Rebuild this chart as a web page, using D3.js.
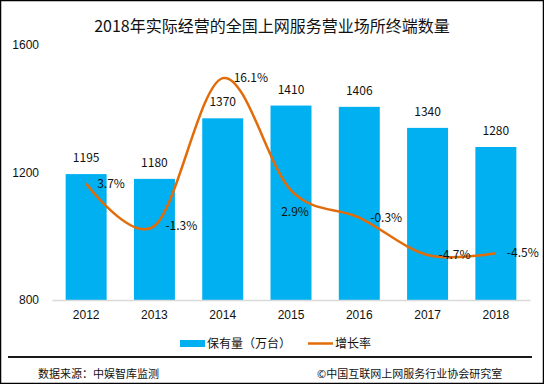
<!DOCTYPE html>
<html>
<head>
<meta charset="utf-8">
<script src="https://cdn.jsdelivr.net/npm/d3@7"></script>
<style>
  html, body { margin: 0; padding: 0; background: #fff; }
  svg { display: block; font-family: "Noto Sans CJK SC", "Noto Sans", sans-serif; }
</style>
</head>
<body>
<div id="chart"></div>
<script>
// chart data
const years = ['2012', '2013', '2014', '2015', '2016', '2017', '2018'];
const terminals = [1195, 1180, 1370, 1410, 1406, 1340, 1280];
const growth = [3.7, -1.3, 16.1, 2.9, -0.3, -4.7, -4.5];
const growthLabelPos = ['right', 'right', 'right', 'below', 'right', 'right', 'right'];
const yTicks = [800, 1200, 1600];

const W = 544, H = 384;
const barColor = '#00B0F0';
const lineColor = '#E36C0A';

const svg = d3.select('#chart').append('svg')
    .attr('width', W)
    .attr('height', H);

// outer border
svg.append('rect')
    .attr('x', 0.5).attr('y', 0.5)
    .attr('width', W - 1).attr('height', H - 1)
    .attr('fill', '#fff')
    .attr('stroke', '#000')
    .attr('stroke-width', 1.5);

svg.append('text')
    .attr('x', 272).attr('y', 32)
    .attr('text-anchor', 'middle')
    .attr('font-size', 16)
    .attr('fill', '#111')
    .text('2018年实际经营的全国上网服务营业场所终端数量');

const x = d3.scaleBand().domain(years).range([52, 530]).paddingInner(0.4).paddingOuter(0.2);
const y = d3.scaleLinear().domain([800, 1600]).range([300, 45]);
const y2 = d3.scaleLinear().domain([-10, 20]).range([300, 45]);

// y axis labels (no line)
const yAxis = svg.append('g')
    .attr('transform', 'translate(44,0)')
    .call(d3.axisLeft(y).tickValues(yTicks).tickFormat(d3.format('d')).tickSize(0).tickPadding(5));
yAxis.select('.domain').remove();
yAxis.selectAll('text').attr('font-size', 12).attr('fill', '#111').attr('font-family', null);

// bars
svg.append('g').selectAll('rect')
    .data(years)
    .join('rect')
    .attr('x', d => x(d))
    .attr('y', (d, i) => y(terminals[i]))
    .attr('width', x.bandwidth())
    .attr('height', (d, i) => y(800) - y(terminals[i]))
    .attr('fill', barColor);

// x axis
const xAxis = svg.append('g')
    .attr('transform', 'translate(0,300)')
    .call(d3.axisBottom(x).tickSize(0).tickPadding(10));
xAxis.select('.domain').attr('stroke', '#d9d9d9').attr('stroke-width', 1.5);
xAxis.selectAll('text').attr('font-size', 12).attr('fill', '#111').attr('font-family', null);

// bar value labels
svg.append('g').selectAll('text')
    .data(years)
    .join('text')
    .attr('x', d => x(d) + x.bandwidth() / 2)
    .attr('y', (d, i) => y(terminals[i]) - 12)
    .attr('text-anchor', 'middle')
    .attr('font-size', 12)
    .attr('fill', '#111')
    .text((d, i) => terminals[i]);

// growth line (smoothed)
const line = d3.line()
    .x((d, i) => x(years[i]) + x.bandwidth() / 2)
    .y(d => y2(d))
    .curve(d3.curveCardinal.tension(0));

svg.append('path')
    .datum(growth)
    .attr('d', line)
    .attr('fill', 'none')
    .attr('stroke', lineColor)
    .attr('stroke-width', 2.5);

// growth labels
svg.append('g').selectAll('text')
    .data(growth)
    .join('text')
    .attr('x', (d, i) => {
        const cx = x(years[i]) + x.bandwidth() / 2;
        return growthLabelPos[i] === 'below' ? cx + 4 : cx + 11;
    })
    .attr('y', (d, i) => growthLabelPos[i] === 'below' ? y2(d) + 26 : y2(d) + 4)
    .attr('text-anchor', (d, i) => growthLabelPos[i] === 'below' ? 'middle' : 'start')
    .attr('font-size', 12)
    .attr('fill', '#111')
    .text(d => d.toFixed(1) + '%');

// legend
const lg = svg.append('g');
lg.append('rect').attr('x', 180).attr('y', 340).attr('width', 25).attr('height', 7).attr('fill', barColor);
lg.append('text').attr('x', 207).attr('y', 348).attr('font-size', 12).attr('fill', '#111').text('保有量（万台）');
lg.append('line').attr('x1', 308).attr('x2', 333).attr('y1', 343.5).attr('y2', 343.5)
    .attr('stroke', lineColor).attr('stroke-width', 2.5);
lg.append('text').attr('x', 335).attr('y', 348).attr('font-size', 12).attr('fill', '#111').text('增长率');

// footer
svg.append('line')
    .attr('x1', 8).attr('x2', 532).attr('y1', 357).attr('y2', 357)
    .attr('stroke', '#1a1a1a').attr('stroke-width', 2);
svg.append('text').attr('x', 38).attr('y', 378).attr('font-size', 11).attr('fill', '#111')
    .text('数据来源：中娱智库监测');
svg.append('text').attr('x', 317).attr('y', 378).attr('font-size', 11).attr('fill', '#111')
    .text('©中国互联网上网服务行业协会研究室');
</script>
</body>
</html>
